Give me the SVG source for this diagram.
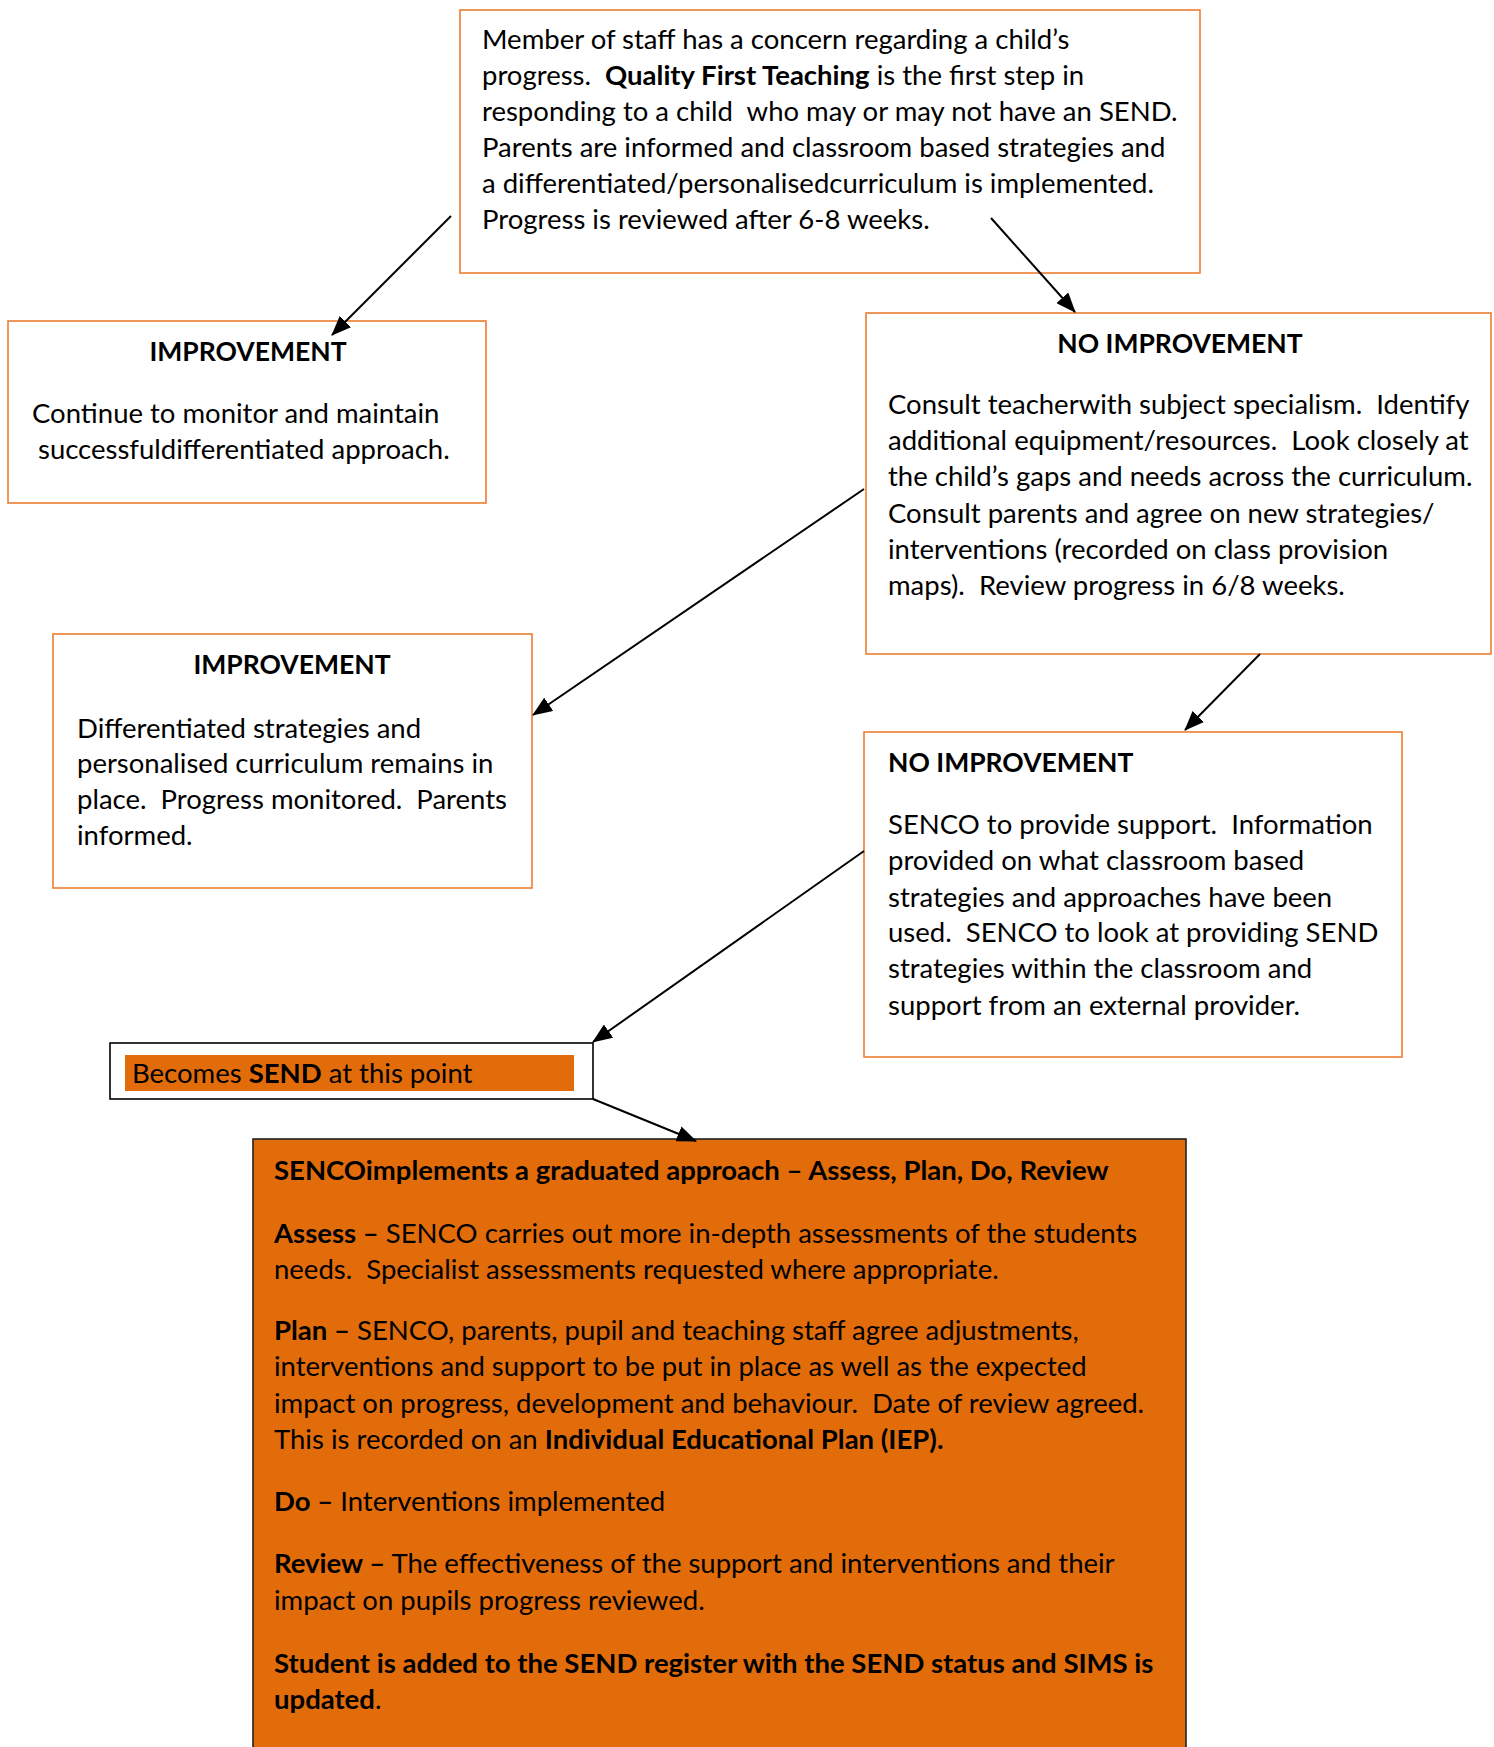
<svg xmlns="http://www.w3.org/2000/svg" width="1494" height="1747" viewBox="0 0 1494 1747">
<defs>
<style>
.box{fill:#ffffff;stroke:#ED7D31;stroke-width:1.6}
.t{font-family:Lato,"Liberation Sans",sans-serif;font-size:27.5px;fill:#000;white-space:pre}
.b{font-weight:bold}
.h{font-size:26.5px}
.c{text-anchor:middle}
.conn line{stroke:#000;stroke-width:2;marker-end:url(#arr)}
</style>
<marker id="arr" viewBox="0 0 20 16" refX="19" refY="8" markerWidth="20" markerHeight="16" markerUnits="userSpaceOnUse" orient="auto">
<path d="M0,0 L20,8 L0,16 z" fill="#000"/>
</marker>
</defs>
<rect width="1494" height="1747" fill="#fff"/>

<g id="start">
<rect class="box" x="460" y="10" width="740" height="263"/>
<text class="t" x="482" y="49">Member of staff has a concern regarding a child’s</text>
<text class="t" x="482" y="85">progress.  <tspan class="b">Quality First Teaching</tspan> is the first step in</text>
<text class="t" x="482" y="121">responding to a child  who may or may not have an SEND.</text>
<text class="t" x="482" y="157">Parents are informed and classroom based strategies and</text>
<text class="t" x="482" y="193">a differentiated/personalisedcurriculum is implemented.</text>
<text class="t" x="482" y="229">Progress is reviewed after 6-8 weeks.</text>
</g>

<g id="improvement1">
<rect class="box" x="8" y="321" width="478" height="182"/>
<text class="t b c h" x="248" y="361">IMPROVEMENT</text>
<text class="t" x="32" y="423">Continue to monitor and maintain</text>
<text class="t" x="38" y="459">successfuldifferentiated approach.</text>
</g>

<g id="noimprovement1">
<rect class="box" x="866" y="313" width="625" height="341"/>
<text class="t b c h" x="1180" y="353">NO IMPROVEMENT</text>
<text class="t" x="888" y="414">Consult teacherwith subject specialism.  Identify</text>
<text class="t" x="888" y="450">additional equipment/resources.  Look closely at</text>
<text class="t" x="888" y="486">the child’s gaps and needs across the curriculum.</text>
<text class="t" x="888" y="523">Consult parents and agree on new strategies/</text>
<text class="t" x="888" y="559">interventions (recorded on class provision</text>
<text class="t" x="888" y="595">maps).  Review progress in 6/8 weeks.</text>
</g>

<g id="improvement2">
<rect class="box" x="53" y="634" width="479" height="254"/>
<text class="t b c h" x="292" y="674">IMPROVEMENT</text>
<text class="t" x="77" y="738">Differentiated strategies and</text>
<text class="t" x="77" y="773">personalised curriculum remains in</text>
<text class="t" x="77" y="809">place.  Progress monitored.  Parents</text>
<text class="t" x="77" y="845">informed.</text>
</g>

<g id="noimprovement2">
<rect class="box" x="864" y="732" width="538" height="325"/>
<text class="t b h" x="888" y="772">NO IMPROVEMENT</text>
<text class="t" x="888" y="834">SENCO to provide support.  Information</text>
<text class="t" x="888" y="870">provided on what classroom based</text>
<text class="t" x="888" y="907">strategies and approaches have been</text>
<text class="t" x="888" y="942">used.  SENCO to look at providing SEND</text>
<text class="t" x="888" y="978">strategies within the classroom and</text>
<text class="t" x="888" y="1015">support from an external provider.</text>
</g>

<g id="becomesSEND">
<rect x="110" y="1043" width="483" height="56" fill="#fff" stroke="#000" stroke-width="1.6"/>
<rect x="125" y="1055" width="449" height="36" fill="#E36C0A"/>
<text class="t" x="132" y="1083">Becomes <tspan class="b">SEND</tspan> at this point</text>
</g>

<g id="graduated">
<rect x="253" y="1139" width="933" height="640" fill="#E36C0A" stroke="#222" stroke-width="1.6"/>
<text class="t b" x="274" y="1180">SENCOimplements a graduated approach – Assess, Plan, Do, Review</text>
<text class="t" x="274" y="1243"><tspan class="b">Assess –</tspan> SENCO carries out more in-depth assessments of the students</text>
<text class="t" x="274" y="1279">needs.  Specialist assessments requested where appropriate.</text>
<text class="t" x="274" y="1340"><tspan class="b">Plan –</tspan> SENCO, parents, pupil and teaching staff agree adjustments,</text>
<text class="t" x="274" y="1376">interventions and support to be put in place as well as the expected</text>
<text class="t" x="274" y="1413">impact on progress, development and behaviour.  Date of review agreed.</text>
<text class="t" x="274" y="1449">This is recorded on an <tspan class="b">Individual Educational Plan (IEP).</tspan></text>
<text class="t" x="274" y="1511"><tspan class="b">Do –</tspan> Interventions implemented</text>
<text class="t" x="274" y="1573"><tspan class="b">Review –</tspan> The effectiveness of the support and interventions and their</text>
<text class="t" x="274" y="1610">impact on pupils progress reviewed.</text>
<text class="t b" x="274" y="1673">Student is added to the SEND register with the SEND status and SIMS is</text>
<text class="t" x="274" y="1709"><tspan class="b">updated</tspan>.</text>
</g>

<g id="connectors" class="conn">
<line x1="451" y1="216" x2="332" y2="335"/>
<line x1="991" y1="218" x2="1075" y2="312"/>
<line x1="864" y1="489" x2="533" y2="715"/>
<line x1="1260" y1="654" x2="1185" y2="730"/>
<line x1="864" y1="851" x2="593" y2="1042"/>
<line x1="593" y1="1099" x2="696" y2="1141"/>
</g>
</svg>
